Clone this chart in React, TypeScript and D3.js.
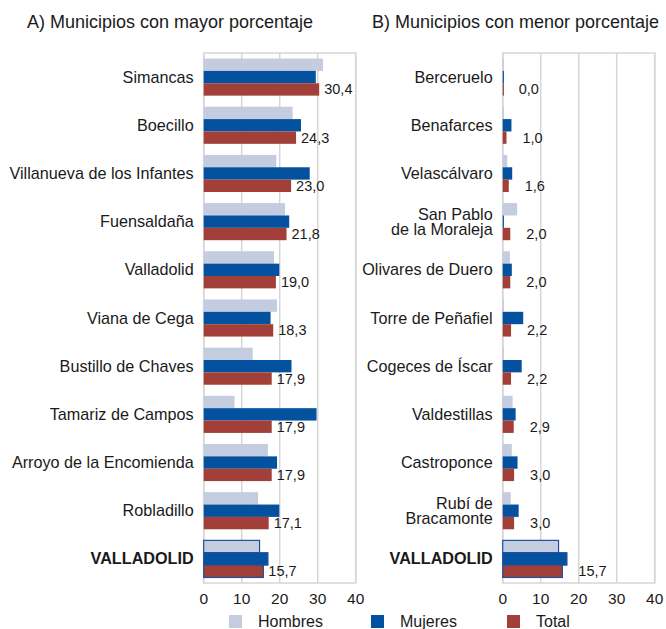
import React from "react";
import * as d3 from "d3";

const leftCategories = ["Simancas", "Boecillo", "Villanueva de los Infantes", "Fuensaldaña", "Valladolid", "Viana de Cega", "Bustillo de Chaves", "Tamariz de Campos", "Arroyo de la Encomienda", "Robladillo", "VALLADOLID"];
const leftHombres = [31.4, 23.4, 19.1, 21.4, 18.5, 19.3, 12.9, 8.1, 16.9, 14.3, 14.7];
const leftMujeres = [29.5, 25.6, 27.9, 22.5, 19.9, 17.6, 23.1, 29.7, 19.3, 19.9, 16.9];
const leftTotal = [30.4, 24.3, 23.0, 21.8, 19.0, 18.3, 17.9, 17.9, 17.9, 17.1, 15.7];

const rightCategories = ["Berceruelo", "Benafarces", "Velascálvaro", "San Pablo\nde la Moraleja", "Olivares de Duero", "Torre de Peñafiel", "Cogeces de Íscar", "Valdestillas", "Castroponce", "Rubí de\nBracamonte", "VALLADOLID"];
const rightHombres = [0.2, 0.1, 1.2, 3.8, 1.9, 0.1, 0.1, 2.6, 2.4, 2.1, 14.7];
const rightMujeres = [0.3, 2.3, 2.5, 0.2, 2.4, 5.4, 5.0, 3.4, 3.9, 4.2, 16.9];
const rightTotal = [0.0, 1.0, 1.6, 2.0, 2.0, 2.2, 2.2, 2.9, 3.0, 3.0, 15.7];

const seriesNames = ["Hombres", "Mujeres", "Total"];
const seriesColors = ["#c4cce0", "#03519f", "#a13f38"];
const xTicks = [0, 10, 20, 30, 40];
const titles = ["A) Municipios con mayor porcentaje", "B) Municipios con menor porcentaje"];

const FONT = "'Liberation Sans', Arial, sans-serif";
const TEXT = "#1a1a1a";
const GRID = "#d6d6d6";

const fmt = (v: number) => v.toFixed(1).replace(".", ",");

function Panel({ cats, h, m, t, x0, labelOffset, title, titleX, titleW }: any) {
  const top = 53, bottom = 583;
  const x = d3.scaleLinear().domain([0, 40]).range([x0, x0 + 152]);
  const y = d3.scaleBand<string>().domain(cats).range([top, bottom]).paddingInner(0.23).paddingOuter(0.115);
  const sub = d3.scaleBand<string>().domain(seriesNames).range([0, y.bandwidth()]);
  const series = [h, m, t];
  return (
    <g>
      <text x={titleX} y={28} fontFamily={FONT} fontSize={19} fill={TEXT} textLength={titleW} lengthAdjust="spacingAndGlyphs">{title}</text>
      <rect x={x(0)} y={top} width={x(40) - x(0)} height={bottom - top} fill="none" stroke={GRID} strokeWidth={1.5} />
      {xTicks.map((tk) => (
        <g key={tk}>
          <line x1={x(tk)} x2={x(tk)} y1={top} y2={bottom} stroke={GRID} strokeWidth={1.5} />
          <text x={x(tk)} y={604} textAnchor="middle" fontFamily={FONT} fontSize={15.5} fill={TEXT}>{tk}</text>
        </g>
      ))}
      {cats.map((c: string, i: number) => {
        const gy = y(c)!;
        const isTotal = c === "VALLADOLID";
        const lines = c.split("\n");
        const cy = gy + y.bandwidth() / 2;
        return (
          <g key={c}>
            {series.map((arr: number[], si: number) => {
              const w = Math.max(1.2, x(arr[i]) - x(0));
              return (
                <rect key={si} x={x(0)} y={gy + sub(seriesNames[si])!} width={w} height={sub.bandwidth()}
                  fill={seriesColors[si]} stroke={isTotal ? "#1f4f9c" : "none"} strokeWidth={isTotal ? 1.2 : 0} />
              );
            })}
            <text x={x(t[i]) + labelOffset} y={gy + sub("Total")! + sub.bandwidth() / 2 + 5}
              fontFamily={FONT} fontSize={14.5} fill={TEXT}>{fmt(t[i])}</text>
            <text textAnchor="end" fontFamily={FONT} fontSize={16.2} fontWeight={isTotal ? "bold" : "normal"} fill={TEXT}>
              {lines.map((ln: string, li: number) => (
                <tspan key={li} x={x(0) - 10} y={cy + 5.5 + (li - (lines.length - 1) / 2) * 15}>{ln}</tspan>
              ))}
            </text>
          </g>
        );
      })}
    </g>
  );
}

export default function App() {
  const legendX = [229, 371, 507];
  return (
    <div style={{ position: "absolute", left: 0, top: 0 }}>
      <svg width={666} height={629} style={{ display: "block", background: "#fff" }}>
        <Panel cats={leftCategories} h={leftHombres} m={leftMujeres} t={leftTotal} x0={203.7} labelOffset={5} title={titles[0]} titleX={27} titleW={286} />
        <Panel cats={rightCategories} h={rightHombres} m={rightMujeres} t={rightTotal} x0={502.7} labelOffset={16} title={titles[1]} titleX={372} titleW={287} />
        {seriesNames.map((s, i) => (
          <g key={s}>
            <rect x={legendX[i]} y={615} width={13} height={13} fill={seriesColors[i]} />
            <text x={legendX[i] + 29} y={627} fontFamily={FONT} fontSize={16} fill={TEXT}>{s}</text>
          </g>
        ))}
      </svg>
    </div>
  );
}
